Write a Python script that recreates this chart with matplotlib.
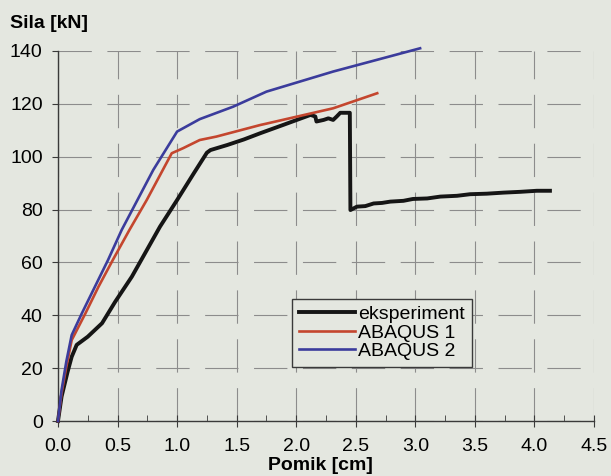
import matplotlib.pyplot as plt
from matplotlib.ticker import MultipleLocator

plt.rcParams['font.family'] = ['Liberation Sans', 'DejaVu Sans']

# eksperiment (pomik [cm], sila [kN])
eks_x = [0.0, 0.03, 0.08, 0.115, 0.157, 0.25, 0.37, 0.48, 0.62, 0.73, 0.856, 1.0,
         1.14, 1.25, 1.28, 1.42, 1.56, 1.7, 1.89, 2.12, 2.16, 2.17, 2.23,
         2.27, 2.31, 2.34, 2.37, 2.45, 2.455, 2.51, 2.58, 2.65, 2.72, 2.79, 2.9,
         2.98, 3.1, 3.21, 3.35, 3.46, 3.6, 3.74, 3.88, 4.02, 4.13]
eks_y = [0.0, 9.2, 18.5, 24.3, 28.8, 31.9, 37.0, 45.1, 54.6, 63.4, 73.5, 83.6,
         93.7, 101.5, 102.5, 104.4, 106.5, 108.9, 112.0, 115.8, 115.2, 113.3, 113.9,
         114.5, 113.9, 115.2, 116.6, 116.6, 79.8, 81.1, 81.3, 82.3, 82.5, 83.0, 83.3,
         84.0, 84.2, 84.9, 85.2, 85.8, 86.0, 86.4, 86.7, 87.1, 87.1]

# ABAQUS 1
ab1_x = [0.0, 0.03, 0.07, 0.115, 0.23, 0.34, 0.46, 0.6, 0.745, 0.955, 1.05,
         1.19, 1.33, 1.7, 1.75, 2.31, 2.68]
ab1_y = [0.0, 10.5, 20.5, 30.6, 40.7, 50.8, 60.9, 72.3, 83.6, 101.3, 103.2,
         106.3, 107.6, 112.0, 112.5, 118.3, 124.0]

# ABAQUS 2
ab2_x = [0.0, 0.03, 0.07, 0.115, 0.2, 0.31, 0.42, 0.535, 0.8, 1.0, 1.19,
         1.47, 1.75, 2.31, 3.04]
ab2_y = [0.0, 11.7, 22.5, 32.5, 40.7, 50.8, 60.9, 72.3, 95.0, 109.5, 114.2,
         118.9, 124.6, 132.2, 141.0]

bg = '#e4e7e0'
fig = plt.figure(figsize=(6.11, 4.76), dpi=100, facecolor=bg)
ax = fig.add_axes([0.0949, 0.1155, 0.8773, 0.7775], facecolor=bg)

ax.plot(eks_x, eks_y, color='#151515', lw=2.8, label='eksperiment', zorder=3, clip_on=False)
ax.plot(ab1_x, ab1_y, color='#c4462e', lw=1.9, label='ABAQUS 1', zorder=3, clip_on=False)
ax.plot(ab2_x, ab2_y, color='#3b3c9c', lw=1.9, label='ABAQUS 2', zorder=3, clip_on=False)

ax.set_xlim(0, 4.5)
ax.set_ylim(0, 140)
ax.xaxis.set_major_locator(MultipleLocator(0.5))
ax.xaxis.set_minor_locator(MultipleLocator(0.25))
ax.yaxis.set_major_locator(MultipleLocator(20))
ax.xaxis.set_major_formatter(lambda v, p: f'{v:.1f}')

ax.grid(True, which='major', color='#8c8c8c', lw=0.8, linestyle=(0, (30, 14)))
for s in ['top', 'right']:
    ax.spines[s].set_visible(False)
for s in ['left', 'bottom']:
    ax.spines[s].set_color('#3a3a3a')
    ax.spines[s].set_linewidth(1.0)

ax.tick_params(axis='x', which='major', direction='inout', length=8, pad=8,
               labelsize=14, color='#3a3a3a')
ax.tick_params(axis='x', which='minor', direction='in', length=4, color='#3a3a3a')
ax.tick_params(axis='y', which='major', direction='out', length=4, pad=7,
               labelsize=14, color='#3a3a3a')

# axis title sits just under the tick labels, a little left of centre
ax.set_xlabel('Pomik [cm]', fontsize=14, fontweight='bold')
ax.xaxis.set_label_coords(0.489, -0.098)
fig.text(10 / 611, 1 - 24 / 476, 'Sila [kN]', fontsize=14, fontweight='bold',
         ha='left', va='center')

leg = ax.legend(loc='lower left', bbox_to_anchor=(0.437, 0.146), fontsize=14,
                frameon=True, fancybox=False, handlelength=2.9, handletextpad=0.15,
                labelspacing=0.05, borderpad=0.35, borderaxespad=0)
leg.get_frame().set_facecolor(bg)
leg.get_frame().set_edgecolor('#3a3a3a')
leg.get_frame().set_alpha(1)

fig.savefig('out.png', dpi=100, facecolor=bg)
